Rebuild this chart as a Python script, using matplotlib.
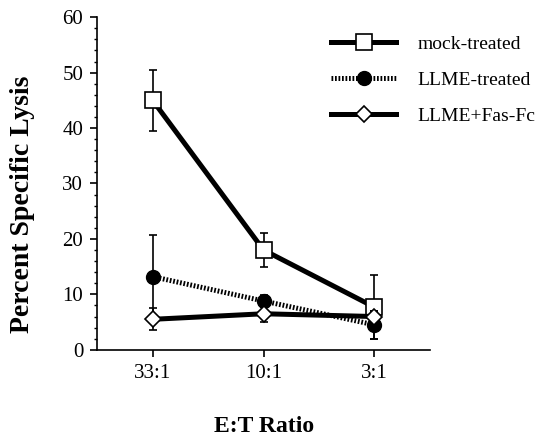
import matplotlib
matplotlib.use("Agg")
import matplotlib.pyplot as plt
from matplotlib.ticker import MultipleLocator

plt.rcParams['font.family'] = ['Liberation Serif', 'DejaVu Serif']

ratios = ["33:1", "10:1", "3:1"]
mock = [45, 18, 7.7]
mock_err = [5.5, 3.0, 5.8]
llme = [13.2, 8.8, 4.5]
llme_err = [7.5, 1.0, 2.5]
fasfc = [5.5, 6.5, 6.0]
fasfc_err = [2.0, 1.5, 1.0]

fig = plt.figure(figsize=(5.4, 4.4), dpi=100)
ax = fig.add_axes([0.18, 0.205, 0.616, 0.756])

x = list(range(len(ratios)))

c1 = ax.errorbar(x, mock, yerr=mock_err, color="black", lw=3.6, marker="s",
                 ms=11, mfc="white", mec="black", mew=1.2, ecolor="black",
                 elinewidth=1.2, capsize=3, capthick=1.2, zorder=3)
c2 = ax.errorbar(x, llme, yerr=llme_err, color="black", lw=3.6, ls=(0, (0.35, 0.35)),
                 marker="o", ms=10, mfc="black", mec="black", ecolor="black",
                 elinewidth=1.2, capsize=3, capthick=1.2, zorder=4)
c3 = ax.errorbar(x, fasfc, yerr=fasfc_err, color="black", lw=3.6, marker="D",
                 ms=8, mfc="white", mec="black", mew=1.2, ecolor="black",
                 elinewidth=1.2, capsize=3, capthick=1.2, zorder=5)

ax.set_xlim(-0.5, 2.5)
ax.set_ylim(0, 60)
ax.set_xticks(x)
ax.set_xticklabels(ratios)
ax.yaxis.set_major_locator(MultipleLocator(10))
ax.yaxis.set_minor_locator(MultipleLocator(2))
ax.tick_params(axis="both", which="major", direction="out", length=5, width=1.2,
               labelsize=15, pad=5)
ax.tick_params(axis="y", which="minor", direction="out", length=2.5, width=1)
ax.spines["top"].set_visible(False)
ax.spines["right"].set_visible(False)
ax.spines["left"].set_linewidth(1.2)
ax.spines["bottom"].set_linewidth(1.2)

fig.text(0.042, 0.535, "Percent Specific Lysis", fontsize=20, fontweight="bold",
         rotation=90, ha="center", va="center")
fig.text(0.489, 0.018, "E:T Ratio", fontsize=17, fontweight="bold", ha="center")

ax.legend([c1.lines[0], c2.lines[0], c3.lines[0]],
          ["mock-treated", "LLME-treated", "LLME+Fas-Fc"],
          loc="upper left", bbox_to_anchor=(0.68, 0.97), frameon=False,
          fontsize=14, handlelength=3.35, labelspacing=0.95, handletextpad=1.1,
          borderaxespad=0)

fig.savefig("out.png", dpi=100)
